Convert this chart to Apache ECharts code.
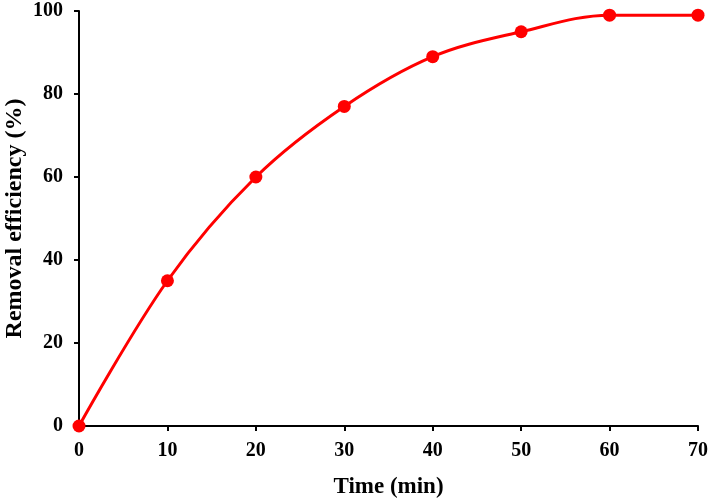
<!DOCTYPE html>
<html><head><meta charset="utf-8">
<script src="https://cdn.jsdelivr.net/npm/echarts@6/dist/echarts.min.js"></script>
<style>html,body{margin:0;padding:0;background:#fff}#c{width:711px;height:503px}</style>
</head><body><div id="c"></div>
<script>
const times = [0, 10, 20, 30, 40, 50, 60, 70];
const removal = [0, 35, 60, 77, 89, 95, 99, 99];
const xTitle = 'Time (min)';
const yTitle = 'Removal efficiency (%)';
const font = '"Liberation Serif","Times New Roman",serif';
const chart = echarts.init(document.getElementById('c'));
chart.setOption({
  animation: false,
  backgroundColor: '#fff',
  grid: {left: 79, right: 13, top: 11, bottom: 77, outerBoundsMode: 'none', containLabel: false},
  xAxis: {
    type: 'value', min: 0, max: 70, interval: 10,
    name: xTitle, nameLocation: 'middle', nameGap: 50,
    nameTextStyle: {fontFamily: font, fontWeight: 'bold', fontSize: 23, color: '#000'},
    axisLine: {show: true, lineStyle: {color: '#000', width: 2}},
    axisTick: {show: true, inside: false, length: 5, lineStyle: {color: '#000', width: 2}},
    axisLabel: {fontFamily: font, fontWeight: 'bold', fontSize: 20, color: '#000', margin: 15},
    splitLine: {show: false}
  },
  yAxis: {
    type: 'value', min: 0, max: 100, interval: 20,
    name: yTitle, nameLocation: 'middle', nameGap: 64, nameRotate: 90, nameMoveOverlap: false,
    nameTextStyle: {fontFamily: font, fontWeight: 'bold', fontSize: 24, color: '#000', verticalAlign: 'middle'},
    axisLine: {show: true, lineStyle: {color: '#000', width: 2}},
    axisTick: {show: true, inside: false, length: 5, lineStyle: {color: '#000', width: 2}},
    axisLabel: {fontFamily: font, fontWeight: 'bold', fontSize: 20, color: '#000', margin: 16},
    splitLine: {show: false}
  },
  series: [{
    type: 'line',
    data: times.map((t, i) => [t, removal[i]]),
    smooth: 0.35,
    symbol: 'circle', symbolSize: 13,
    lineStyle: {color: '#ff0000', width: 3},
    itemStyle: {color: '#ff0000'},
    clip: false
  }]
});
</script></body></html>
